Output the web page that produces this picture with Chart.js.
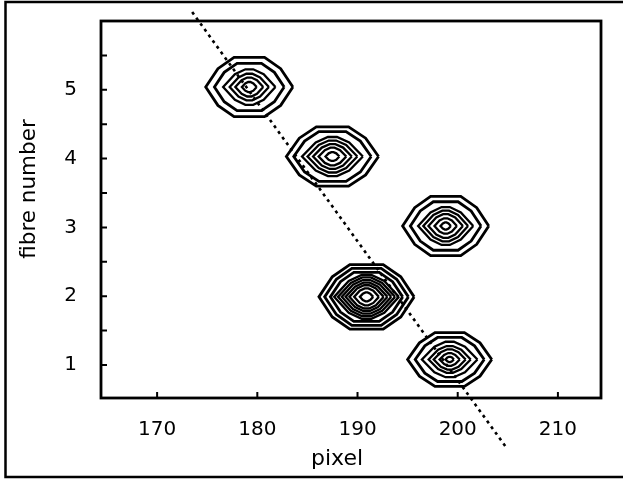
<!DOCTYPE html>
<html>
<head>
<meta charset="utf-8">
<script src="https://cdn.jsdelivr.net/npm/chart.js@4/dist/chart.umd.min.js"></script>
<style>
  html, body { margin: 0; padding: 0; background: #fff; }
  #wrap { width: 623px; height: 479px; }
</style>
</head>
<body>
<div id="wrap"><canvas id="chart"></canvas></div>
<script>
// peak centres (pixel, fibre number)
const peakX = [199.2, 190.9, 198.8, 187.5, 179.2];
const peakY = [1.08, 1.99, 3.02, 4.03, 5.04];
// outer contour half-size of each peak
const peakHalfW = [4.2, 4.75, 4.3, 4.6, 4.35];
const peakHalfH = [0.39, 0.47, 0.43, 0.43, 0.43];
// relative size of every contour level, per peak
const ringLevels = [
  [1, 0.82, 0.66, 0.5, 0.38, 0.24, 0.1],
  [1, 0.88, 0.76, 0.68, 0.6, 0.52, 0.44, 0.36, 0.26, 0.14],
  [1, 0.82, 0.64, 0.52, 0.4, 0.26, 0.12],
  [1, 0.84, 0.66, 0.54, 0.42, 0.3, 0.15],
  [1, 0.8, 0.6, 0.45, 0.32, 0.17]
];
// contour outlines (unit shape): outer octagon and inner eye shape
const outerShape = [[1,0],[0.72,0.62],[0.35,1],[-0.35,1],[-0.72,0.62],[-1,0],[-0.72,-0.62],[-0.35,-1],[0.35,-1],[0.72,-0.62],[1,0]];
const innerShape = [[1,0],[0.55,0.72],[0.15,1],[-0.15,1],[-0.55,0.72],[-1,0],[-0.55,-0.72],[-0.15,-1],[0.15,-1],[0.55,-0.72],[1,0]];
// dotted line through the peaks
const fitX = [173.5, 204.8];
const fitY = [6.13, -0.19];
// axis ticks
const xTicks = [170, 180, 190, 200, 210];
const yTicks = [1, 1.5, 2, 2.5, 3, 3.5, 4, 4.5, 5, 5.5];

const datasets = [];
peakX.forEach((cx, i) => {
  ringLevels[i].forEach((lv) => {
    const shape = lv > 0.75 ? outerShape : innerShape;
    datasets.push({
      data: shape.map(p => ({ x: cx + p[0] * peakHalfW[i] * lv, y: peakY[i] + p[1] * peakHalfH[i] * lv })),
      showLine: true,
      borderColor: '#000',
      borderWidth: lv > 0.75 ? 2.8 : 2.3,
      pointRadius: 0,
      tension: 0
    });
  });
});
datasets.push({
  data: fitX.map((x, i) => ({ x: x, y: fitY[i] })),
  showLine: true,
  borderColor: '#000',
  borderWidth: 2.6,
  borderDash: [3, 4],
  pointRadius: 0,
  clip: false
});

const framePlugin = {
  id: 'frame',
  afterDraw(chart) {
    const ctx = chart.ctx;
    const a = chart.chartArea;
    const xs = chart.scales.x, ys = chart.scales.y;
    ctx.save();
    ctx.strokeStyle = '#000';
    // plot box
    ctx.lineWidth = 2.8;
    ctx.strokeRect(a.left, a.top, a.right - a.left, a.bottom - a.top);
    // inward ticks
    ctx.lineWidth = 2;
    ctx.beginPath();
    xTicks.forEach(v => {
      const px = xs.getPixelForValue(v);
      ctx.moveTo(px, a.bottom);
      ctx.lineTo(px, a.bottom - 6);
    });
    yTicks.forEach(v => {
      const py = ys.getPixelForValue(v);
      ctx.moveTo(a.left, py);
      ctx.lineTo(a.left + 6, py);
    });
    ctx.stroke();
    // outer picture border
    ctx.lineWidth = 2.5;
    ctx.beginPath();
    ctx.moveTo(623, 2);
    ctx.lineTo(5.5, 2);
    ctx.lineTo(5.5, 477);
    ctx.lineTo(623, 477);
    ctx.stroke();
    ctx.restore();
  }
};

new Chart(document.getElementById('chart'), {
  type: 'scatter',
  data: { datasets: datasets },
  options: {
    responsive: true,
    maintainAspectRatio: false,
    animation: false,
    events: [],
    layout: { padding: { left: 0, top: 21, right: 22, bottom: 0 } },
    plugins: { legend: { display: false }, tooltip: { enabled: false } },
    scales: {
      x: {
        type: 'linear',
        min: 164.4,
        max: 214.3,
        grid: { display: false, drawTicks: false },
        border: { display: false },
        afterBuildTicks: (s) => { s.ticks = xTicks.map(v => ({ value: v })); },
        afterFit: (s) => { s.height = 81; s.paddingLeft = 0; s.paddingRight = 0; },
        ticks: {
          color: '#000',
          padding: 20,
          maxRotation: 0,
          font: { family: 'DejaVu Sans', size: 20 }
        },
        title: {
          display: true,
          text: 'pixel\u00a0\u00a0\u00a0\u00a0',
          color: '#000',
          padding: { top: 0, bottom: 7 },
          font: { family: 'DejaVu Sans', size: 22 }
        }
      },
      y: {
        type: 'linear',
        min: 0.52,
        max: 6.0,
        grid: { display: false, drawTicks: false },
        border: { display: false },
        afterBuildTicks: (s) => { s.ticks = yTicks.map(v => ({ value: v })); },
        afterFit: (s) => { s.width = 101; s.paddingTop = 0; s.paddingBottom = 0; },
        ticks: {
          color: '#000',
          padding: 24,
          font: { family: 'DejaVu Sans', size: 20 },
          callback: (v) => Number.isInteger(v) ? String(v) : ''
        },
        title: {
          display: true,
          text: '\u00a0\u00a0\u00a0\u00a0\u00a0\u00a0fibre number',
          color: '#000',
          padding: { top: 17, bottom: 0 },
          font: { family: 'DejaVu Sans', size: 21.5 }
        }
      }
    }
  },
  plugins: [framePlugin]
});
</script>
</body>
</html>
